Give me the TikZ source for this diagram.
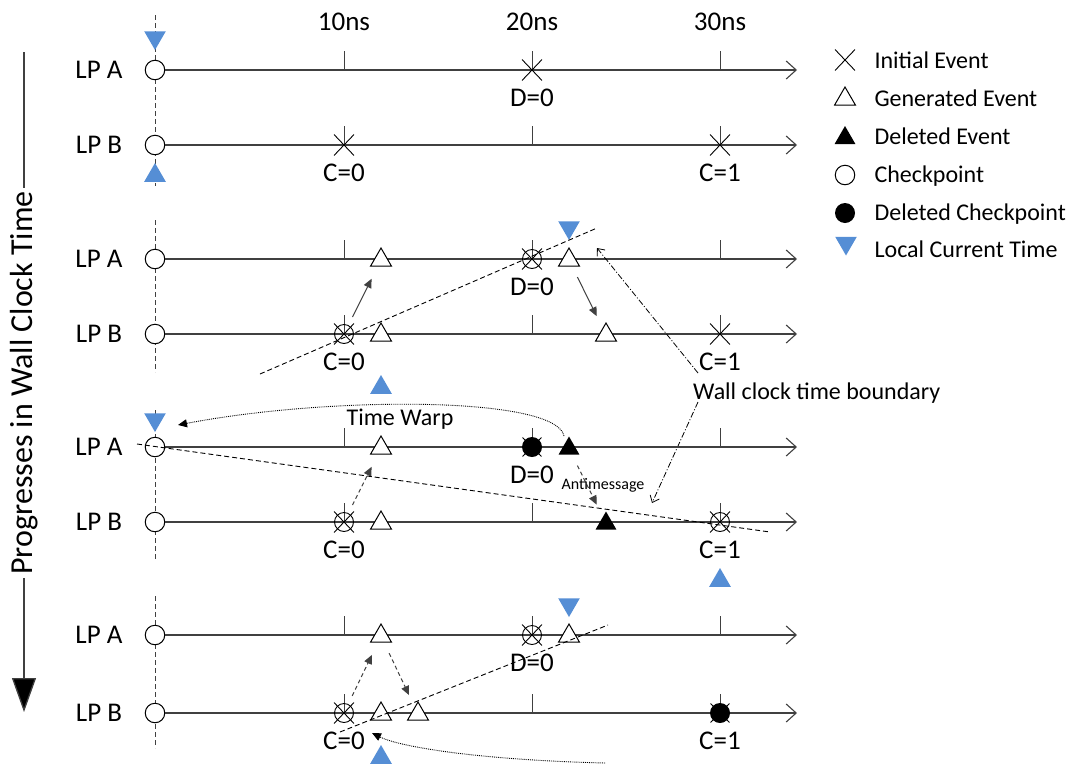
\documentclass[tikz,border=0pt]{standalone}
\usepackage{fontspec}
\setmainfont{Carlito}
\usetikzlibrary{arrows.meta,shapes.geometric,shapes.misc}
\definecolor{lctblue}{RGB}{85,142,213}
\definecolor{linegray}{RGB}{64,64,64}
\newcommand\fsz[1]{\fontsize{#1}{#1}\selectfont}

% one LP timeline: name prefix, y position, label
\newcommand\lprow[3]{%
  \node[lp] (#1lab) at (99,#2) {#3};
  \node[ckpt] (#1c) at (155,#2) {};
  \coordinate (#1end) at (797,#2);
  \draw[tl] (#1c) -- (#1end);
  \foreach \tx in {344,532,720} \draw[tickmark] (\tx,#2) -- ++(0,-19);
}
% checkpoint holding an initial event
\newcommand\ckx[3]{%
  \node[ievt] (#1x) at (#2,#3) {};
  \node[ckring] (#1) at (#2,#3) {};
}
% deleted checkpoint over an initial event
\newcommand\dckx[3]{%
  \node[ievt,minimum width=18pt,minimum height=18pt] (#1x) at (#2,#3) {};
  \node[dckpt] (#1) at (#2,#3) {};
}

\begin{document}
\begin{tikzpicture}[x=1pt,y=-1pt,
  tl/.style={draw=linegray,line width=1.3pt,
    -{Straight Barb[length=10pt,width=18pt,line width=1.1pt]}},
  tickmark/.style={draw=linegray,line width=1pt},
  lp/.style={font=\fsz{27}},
  val/.style={font=\fsz{27}},
  lgt/.style={font=\fsz{24},anchor=base west},
  ckpt/.style={circle,draw,line width=1pt,fill=white,minimum size=19.5pt,inner sep=0pt},
  ckring/.style={circle,draw,line width=0.9pt,minimum size=19pt,inner sep=0pt},
  dckpt/.style={circle,fill=black,minimum size=20pt,inner sep=0pt},
  ievt/.style={cross out,draw,line width=0.9pt,minimum width=19pt,minimum height=20pt,inner sep=0pt},
  gevt/.style={regular polygon,regular polygon sides=3,draw,line width=1pt,fill=white,
    minimum size=24pt,inner sep=0pt},
  devt/.style={regular polygon,regular polygon sides=3,fill=black,
    minimum size=24pt,inner sep=0pt},
  lctdown/.style={regular polygon,regular polygon sides=3,shape border rotate=180,
    fill=lctblue,minimum size=25pt,inner sep=0pt},
  lctup/.style={regular polygon,regular polygon sides=3,
    fill=lctblue,minimum size=25pt,inner sep=0pt},
  vdash/.style={draw=linegray,line width=1pt,dash pattern=on 5pt off 3pt},
  bound/.style={draw=black,line width=0.9pt,dash pattern=on 5pt off 3pt},
  msg/.style={draw=linegray,line width=1pt,shorten <=19pt,shorten >=21pt,
    -{Triangle[length=9pt,width=8pt]}},
  dmsg/.style={msg,dash pattern=on 4pt off 3pt},
  ddot/.style={draw=black,line width=0.8pt,dash pattern=on 6pt off 2pt on 1pt off 2pt,
    -{Straight Barb[length=6pt,width=10pt]}},
  warp/.style={draw=black,line width=0.9pt,densely dotted,
    -{Triangle[length=9pt,width=8pt]}},
]
\useasboundingbox (0,0) rectangle (1074,764);

% time scale
\node[lp] (ns10) at (344,22) {10ns};
\node[lp] (ns20) at (532,22) {20ns};
\node[lp] (ns30) at (720,22) {30ns};

% wall clock axis
\node[font=\fsz{32},rotate=90,inner sep=3pt] (ax) at (24,383) {Progresses in Wall Clock Time};
\coordinate (axtop) at (24,52);
\coordinate (axbot) at (24,712);
\draw[draw=linegray,line width=1.3pt] (axtop) -- (ax.east);
\draw[draw=linegray,line width=1.3pt,-{Triangle[length=34pt,width=24pt,fill=black]}] (ax.west) -- (axbot);

% ---------- stage 1 ----------
\draw[vdash] (155,15) -- (155,186);
\lprow{aI}{70}{LP A}
\lprow{bI}{145}{LP B}
\node[ievt] (dI) at (532,70) {};
\node[val] (dIv) at (532,98) {D=0};
\node[ievt] (cI0) at (344,145) {};
\node[val] (cI0v) at (344,173) {C=0};
\node[ievt] (cI1) at (720,145) {};
\node[val] (cI1v) at (720,173) {C=1};
\node[lctdown] (tAI) at (155,37.5) {};
\node[lctup] (tBI) at (155,175.5) {};

% ---------- stage 2 ----------
\draw[vdash] (155,220) -- (155,372);
\lprow{aII}{259}{LP A}
\lprow{bII}{334}{LP B}
\node[gevt] (gA2) at (381,260) {};
\ckx{dA2}{532}{259}
\node[val] (dA2v) at (532,287) {D=0};
\node[gevt] (gA2b) at (569,260) {};
\ckx{cB2}{344}{334}
\node[val] (cB2v) at (344,362) {C=0};
\node[gevt] (gB2) at (381,335) {};
\node[gevt] (gB2b) at (606,335) {};
\node[ievt] (cB2b) at (720,334) {};
\node[val] (cB2bv) at (720,362) {C=1};
\draw[msg] (cB2.center) -- (gA2.center);
\draw[msg] (gA2b.center) -- (gB2b.center);
\node[lctdown] (tAII) at (569,227.5) {};
\node[lctup] (tBII) at (381,387.5) {};
\coordinate (b2s) at (260,374);
\coordinate (b2e) at (597,228);
\draw[bound] (b2s) -- (b2e);

% boundary callout
\node[font=\fsz{24},anchor=base west,inner sep=0pt] (wc) at (693,399) {Wall clock time boundary};
\coordinate (wcup) at (698,373);
\coordinate (wcupt) at (597,248);
\coordinate (wcdn) at (698,402);
\coordinate (wcdnt) at (652,503);
\draw[ddot] (wcup) -- (wcupt);
\draw[ddot] (wcdn) -- (wcdnt);

% ---------- stage 3 ----------
\draw[vdash] (155,410) -- (155,561);
\lprow{aIII}{447}{LP A}
\lprow{bIII}{522}{LP B}
\node[gevt] (gA3) at (381,448) {};
\dckx{dA3c}{532}{447}
\node[val] (dA3v) at (532,475) {D=0};
\node[devt] (dA3) at (569,448.5) {};
\ckx{cB3}{344}{522}
\node[val] (cB3v) at (344,550) {C=0};
\node[gevt] (gB3) at (381,523) {};
\node[devt] (dB3) at (606,523.5) {};
\ckx{cB3b}{720}{522}
\node[val] (cB3bv) at (720,550) {C=1};
\draw[dmsg] (cB3.center) -- (gA3.center);
\draw[dmsg] (dA3.center) -- (dB3.center);
\node[font=\fsz{16},anchor=base,inner sep=0pt] (anti) at (603,489) {Antimessage};
\node[lctdown] (tAIII) at (155,419.5) {};
\node[lctup] (tBIII) at (720,580.5) {};
\coordinate (twtip) at (178,425);
\draw[warp] (564,436) .. controls (556,396) and (330,396) .. (twtip);
\node[font=\fsz{24},anchor=base,fill=white,inner sep=1pt] (tw) at (400,425) {Time Warp};
\coordinate (b3s) at (137,444);
\coordinate (b3e) at (770,532);
\draw[bound] (b3s) -- (b3e);

% ---------- stage 4 ----------
\draw[vdash] (155,596) -- (155,748);
\lprow{aIV}{635}{LP A}
\lprow{bIV}{713}{LP B}
\node[gevt] (gA4) at (381,636) {};
\ckx{dA4}{532}{635}
\node[val] (dA4v) at (532,663) {D=0};
\node[gevt] (gA4b) at (569,636) {};
\ckx{cB4}{344}{713}
\node[val] (cB4v) at (344,741) {C=0};
\node[gevt] (gB4) at (381,714) {};
\node[gevt] (gB4b) at (418,714) {};
\dckx{cB4b}{720}{713}
\node[val] (cB4bv) at (720,741) {C=1};
\draw[dmsg] (cB4.center) -- (gA4.center);
\draw[dmsg] (gA4.center) -- (gB4b.center);
\node[lctdown] (tAIV) at (569,604.5) {};
\node[lctup] (tBIV) at (381,757.5) {};
\coordinate (b4s) at (340,732);
\coordinate (b4e) at (608,625);
\draw[bound] (b4s) -- (b4e);
\coordinate (rbs) at (605,763);
\coordinate (rbt) at (372,733);
\draw[warp] (rbs) .. controls (480,760) and (400,747) .. (rbt);

% ---------- legend ----------
\node[ievt] (lg1) at (845,60) {};
\node[lgt] (lg1t) at (871,68) {Initial Event};
\node[gevt] (lg2) at (845,99) {};
\node[lgt] (lg2t) at (871,106) {Generated Event};
\node[devt] (lg3) at (845,138) {};
\node[lgt] (lg3t) at (871,144) {Deleted Event};
\node[ckpt] (lg4) at (845,175) {};
\node[lgt] (lg4t) at (871,182) {Checkpoint};
\node[dckpt] (lg5) at (845,213) {};
\node[lgt] (lg5t) at (871,220) {Deleted Checkpoint};
\node[lctdown] (lg6) at (846,243) {};
\node[lgt] (lg6t) at (871,257) {Local Current Time};
\end{tikzpicture}
\end{document}
